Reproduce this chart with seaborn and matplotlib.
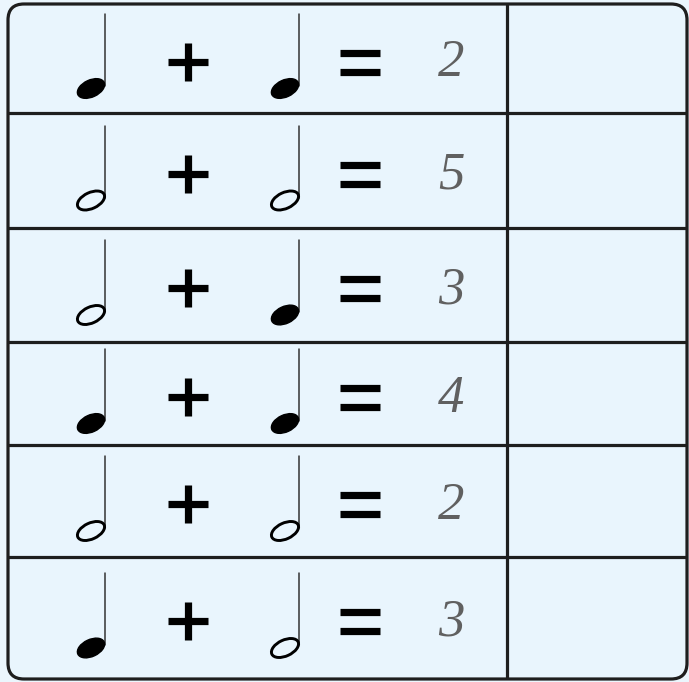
import matplotlib
matplotlib.use('Agg')
import matplotlib.pyplot as plt
import seaborn as sns
import numpy as np
from matplotlib.patches import Ellipse, FancyBboxPatch

# rows of the worksheet: note + note = beats
first_notes = ['quarter', 'half', 'half', 'quarter', 'half', 'quarter']
second_notes = ['quarter', 'half', 'quarter', 'quarter', 'half', 'half']
answers = ['2', '5', '3', '4', '2', '3']

# horizontal grid lines of the table (pixel space)
row_edges = [4, 113, 228, 342, 445, 557, 679]

sns.set_theme(style='white')

bg = '#ebf6fd'
ink = '#1e1e1e'

fig = plt.figure(figsize=(6.89, 6.82), dpi=100)
fig.patch.set_facecolor(bg)
ax = fig.add_axes([0, 0, 1, 1])
ax.set_xlim(0, 689)
ax.set_ylim(682, 0)
ax.axis('off')
ax.set_facecolor(bg)

# outer box with rounded corners
box = FancyBboxPatch((8, 4), 679, 675, boxstyle='round,pad=0,rounding_size=16',
                     facecolor='#e9f5fd', edgecolor=ink, linewidth=2.3, zorder=1)
ax.add_patch(box)

# inner row lines and the answer column divider
for y in row_edges[1:-1]:
    ax.plot([8, 687], [y, y], color=ink, lw=2.3, solid_capstyle='butt', zorder=2)
ax.plot([507, 507], [4, 679], color=ink, lw=2.3, solid_capstyle='butt', zorder=2)


def draw_note(x, y_mid, kind):
    head_y = y_mid + 27
    stem_top = y_mid - 48
    if kind == 'quarter':
        head = Ellipse((x, head_y), 29, 17, angle=-25, facecolor='black',
                       edgecolor='black', lw=1, zorder=4)
    else:
        head = Ellipse((x, head_y), 29, 16, angle=-25, facecolor='none',
                       edgecolor='black', lw=2.1, zorder=4)
    ax.add_patch(head)
    ax.plot([x + 13.5, x + 13.5], [head_y - 3, stem_top], color='#333333',
            lw=1.1, zorder=3)


for i in range(len(answers)):
    y_mid = (row_edges[i] + row_edges[i + 1]) / 2 + 3
    draw_note(91, y_mid, first_notes[i])
    draw_note(285, y_mid, second_notes[i])

    # plus sign
    ax.plot([168, 208], [y_mid, y_mid], color='black', lw=5.2, solid_capstyle='butt', zorder=3)
    ax.plot([188, 188], [y_mid - 19, y_mid + 19], color='black', lw=5.2, solid_capstyle='butt', zorder=3)

    # equals sign
    ax.plot([340, 380], [y_mid - 9, y_mid - 9], color='black', lw=5.2, solid_capstyle='butt', zorder=3)
    ax.plot([340, 380], [y_mid + 10, y_mid + 10], color='black', lw=5.2, solid_capstyle='butt', zorder=3)

    ax.text(451, y_mid + 2, answers[i], ha='center', va='center', fontsize=38,
            family='Liberation Serif', style='italic', color='#606060', zorder=3)

fig.savefig('out.png', dpi=100, facecolor=bg)
